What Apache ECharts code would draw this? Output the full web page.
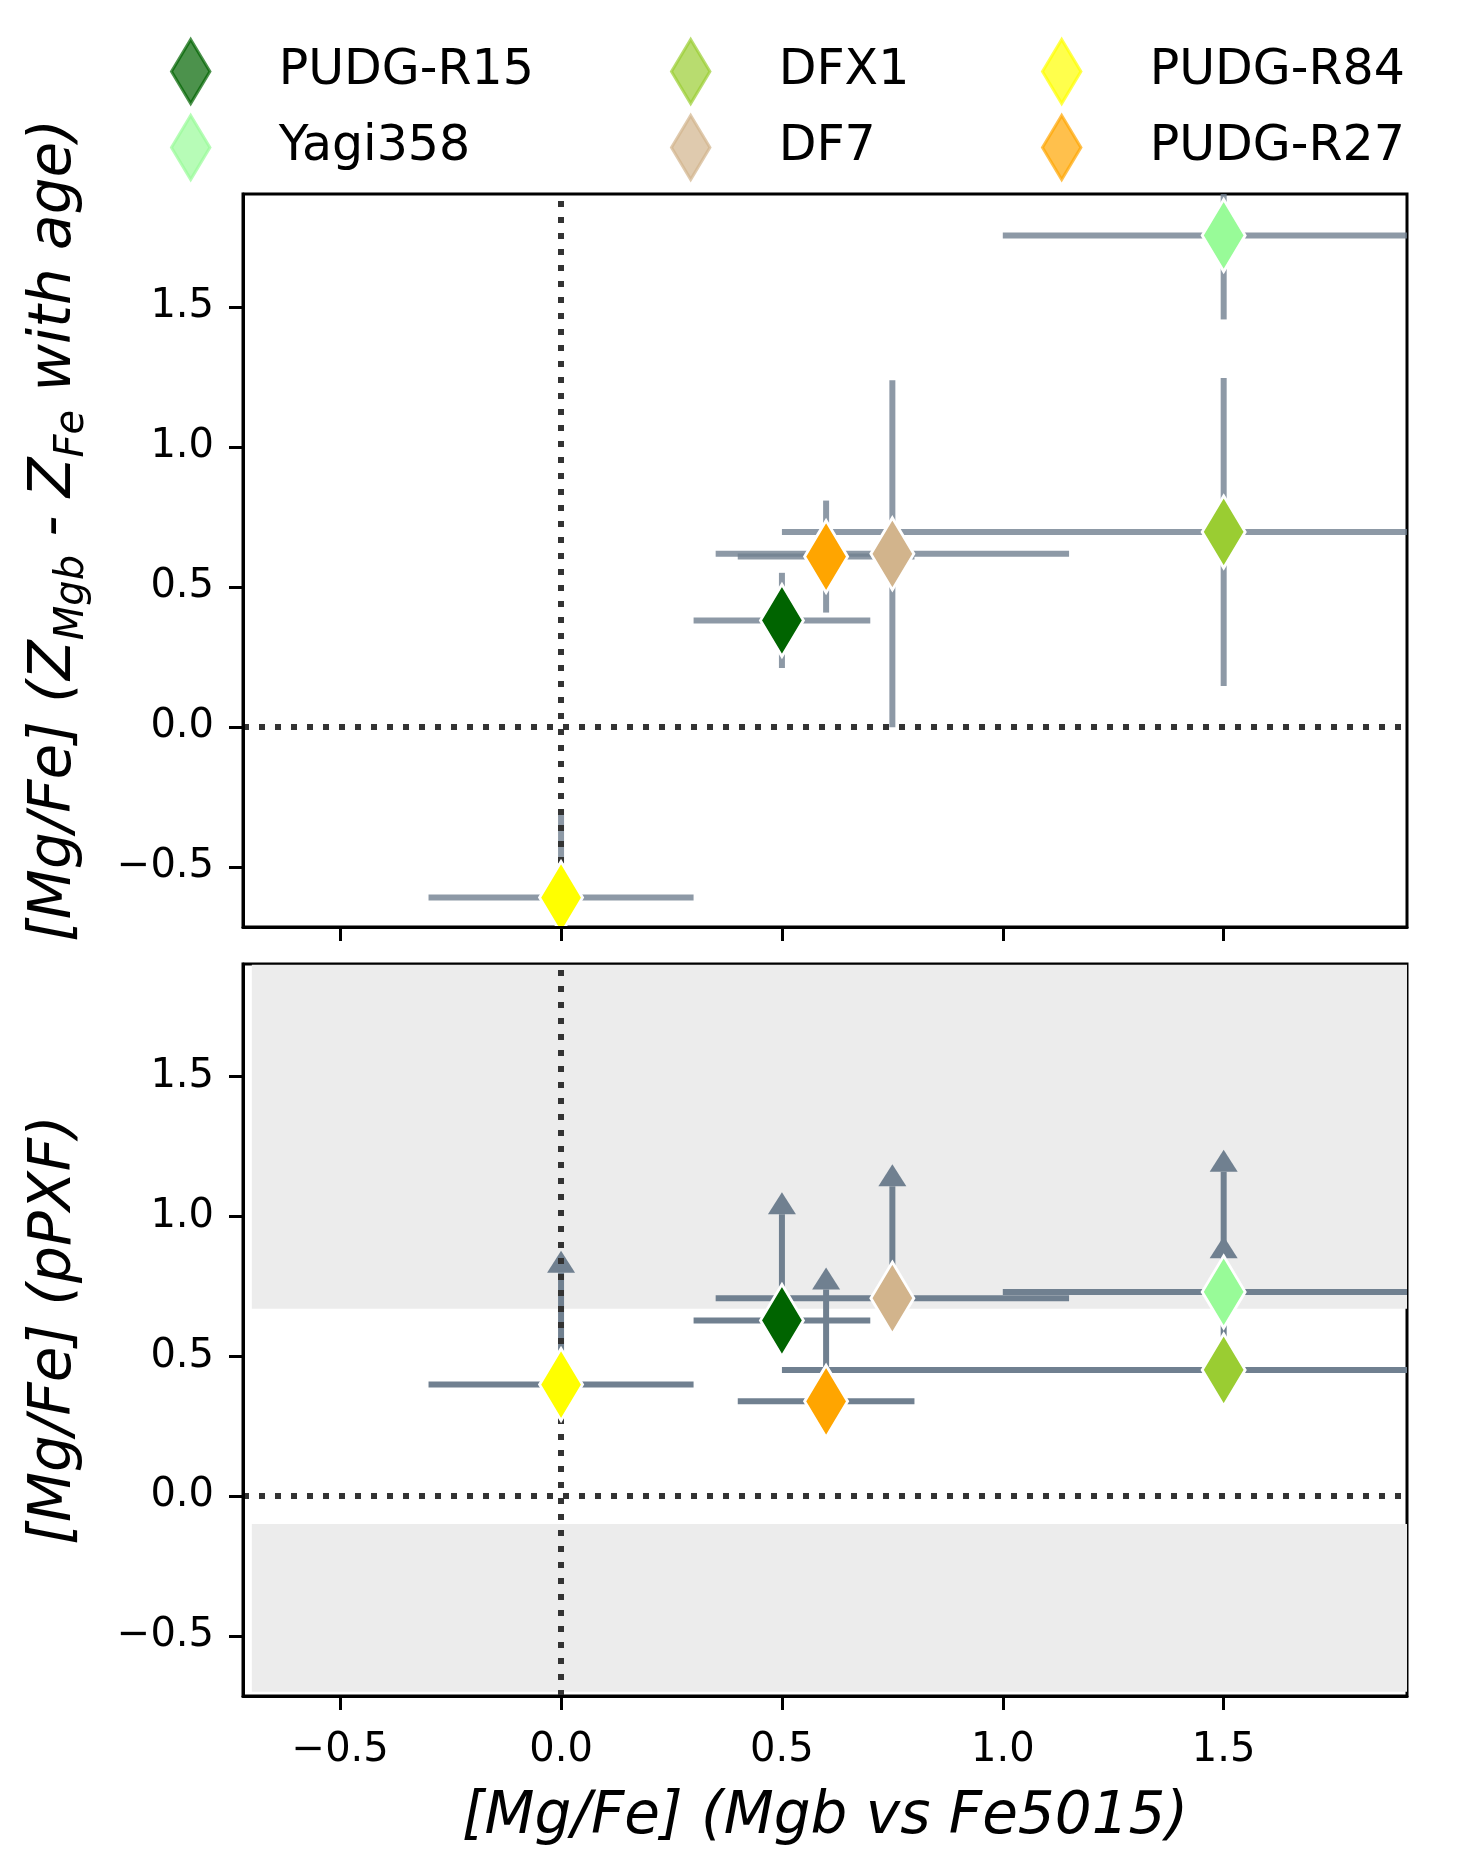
<!DOCTYPE html>
<html>
<head>
<meta charset="utf-8">
<script src="https://cdn.jsdelivr.net/npm/echarts@6/dist/echarts.min.js"></script>
<style>
  html, body { margin: 0; padding: 0; background: #fff; }
  #chart { width: 1460px; height: 1875px; }
</style>
</head>
<body>
<div id="chart"></div>
<script>
/* [Mg/Fe] comparison: index-based vs. Z-based (top) and pPXF lower limits (bottom) */

// --- data ---
const galaxies = ['PUDG-R15', 'Yagi358', 'DFX1', 'DF7', 'PUDG-R84', 'PUDG-R27'];
const colours  = ['#006400', '#98fb98', '#9acd32', '#d2b48c', '#ffff00', '#ffa500'];

// x: [Mg/Fe] from Mgb vs Fe5015
const mgfeIdx    = [0.50, 1.50, 1.50, 0.75, 0.00, 0.60];
const mgfeIdxErr = [0.20, 0.50, 1.00, 0.40, 0.30, 0.20];

// top panel: [Mg/Fe] from Z_Mgb - Z_Fe
const mgfeZ    = [0.380, 1.755, 0.696, 0.618, -0.610, 0.608];
const mgfeZErr = [0.170, 0.300, 0.550, 0.620, 0.315, 0.200];

// bottom panel: pPXF [Mg/Fe], plotted as lower limits (arrow length)
const mgfePpxf    = [0.628, 0.730, 0.451, 0.708, 0.399, 0.339];
const mgfePpxfLim = [0.38, 0.43, 0.40, 0.40, 0.40, 0.40];

// shaded bands in the bottom panel
const bandX = [-0.7, 1.915];
const bandsY = [[0.67, 1.9], [-0.7, -0.1]];

const tickVals = [-0.5, 0.0, 0.5, 1.0, 1.5];
const xRange = [-0.72, 1.915];
const yRange = [-0.715, 1.903];

// legend is laid out column by column, two names per column
const legendCols = [[0, 1], [2, 3], [4, 5]];
const legendLeft = [170, 670, 1041];

// --- helpers ---
const fmt = (v) => (v < 0 ? '\u2212' : '') + Math.abs(v).toFixed(1);
const FONT = 'DejaVu Sans';

function xAxisFor(gridIndex, withLabels) {
  return {
    type: 'value', gridIndex, min: xRange[0], max: xRange[1],
    splitLine: { show: false },
    axisLine: { show: true, onZero: false, lineStyle: { color: '#000', width: 3 } },
    axisTick: { show: true, length: 14, lineStyle: { color: '#000', width: 3 }, customValues: tickVals },
    axisLabel: {
      show: withLabels, customValues: tickVals, formatter: fmt,
      fontSize: 40, color: '#000', margin: 35, fontFamily: FONT,
    },
    z: 10,
  };
}

function yAxisFor(gridIndex, name, shift) {
  return {
    type: 'value', gridIndex, min: yRange[0], max: yRange[1],
    splitLine: { show: false },
    axisLine: { show: true, onZero: false, lineStyle: { color: '#000', width: 3 } },
    axisTick: { show: true, length: 14, lineStyle: { color: '#000', width: 3 }, customValues: tickVals },
    axisLabel: {
      customValues: tickVals, formatter: fmt,
      fontSize: 40, color: '#000', margin: 29, fontFamily: FONT,
    },
    name, nameLocation: 'middle', nameRotate: 90, nameGap: 150,
    nameTextStyle: {
      padding: [0, 0, 0, shift],
      rich: {
        m: { fontSize: 58, fontStyle: 'italic', lineHeight: 76, color: '#000', fontFamily: FONT },
        s: { fontSize: 40, fontStyle: 'italic', lineHeight: 40, verticalAlign: 'bottom', color: '#000', fontFamily: FONT },
      },
    },
    z: 10,
  };
}

// error bars as a custom series: symmetric bars, or an upward arrow (lower limit)
function errorBars(gridIndex, yVals, yErr, asLimit, colour) {
  return {
    type: 'custom', xAxisIndex: gridIndex, yAxisIndex: gridIndex, z: 2, silent: true,
    data: galaxies.map((g, i) => [mgfeIdx[i], yVals[i], mgfeIdxErr[i], yErr[i]]),
    renderItem(params, api) {
      const x = api.value(0), y = api.value(1), dx = api.value(2), dy = api.value(3);
      const cs = params.coordSys;
      const cx = (p) => Math.min(Math.max(p, cs.x), cs.x + cs.width);
      const cy = (p) => Math.min(Math.max(p, cs.y), cs.y + cs.height);
      const style = { stroke: colour, lineWidth: 6, fill: null };
      const l = api.coord([x - dx, y]);
      const r = api.coord([x + dx, y]);
      const kids = [{ type: 'line', shape: { x1: cx(l[0]), y1: l[1], x2: cx(r[0]), y2: r[1] }, style }];
      if (asLimit) {
        const c = api.coord([x, y]);
        const t = api.coord([x, y + dy]);
        kids.push({ type: 'line', shape: { x1: c[0], y1: c[1], x2: t[0], y2: t[1] }, style });
        kids.push({
          type: 'polygon',
          shape: { points: [[t[0], t[1] - 22], [t[0] - 14, t[1]], [t[0] + 14, t[1]]] },
          style: { fill: colour },
        });
      } else {
        const b = api.coord([x, y - dy]);
        const t = api.coord([x, y + dy]);
        kids.push({ type: 'line', shape: { x1: b[0], y1: cy(b[1]), x2: t[0], y2: cy(t[1]) }, style });
      }
      return { type: 'group', children: kids };
    },
  };
}

// dotted x = 0 and y = 0 lines, above the error bars but below the markers
function zeroLines(gridIndex) {
  return {
    type: 'line', xAxisIndex: gridIndex, yAxisIndex: gridIndex, z: 3, data: [], silent: true,
    markLine: {
      z: 3, silent: true, symbol: ['none', 'none'], label: { show: false }, animation: false,
      lineStyle: { color: '#333', width: 6, type: [6, 10] },
      data: [{ xAxis: 0 }, { yAxis: 0 }],
    },
  };
}

function markers(gridIndex, yVals) {
  return galaxies.map((g, i) => ({
    type: 'scatter', name: g, xAxisIndex: gridIndex, yAxisIndex: gridIndex, z: 6,
    symbol: 'diamond', symbolSize: [43, 72],
    itemStyle: { color: colours[i], borderColor: '#fff', borderWidth: 3, opacity: 1 },
    data: [[mgfeIdx[i], yVals[i]]],
  }));
}

const chart = echarts.init(document.getElementById('chart'));

const series = [
  // shaded bands, bottom panel
  {
    type: 'line', xAxisIndex: 1, yAxisIndex: 1, z: 1, data: [], silent: true,
    markArea: {
      z: 1, silent: true, itemStyle: { color: '#ececec' },
      data: bandsY.map((b) => [{ xAxis: bandX[0], yAxis: b[0] }, { xAxis: bandX[1], yAxis: b[1] }]),
    },
  },
  errorBars(0, mgfeZ, mgfeZErr, false, 'rgba(112,128,144,0.8)'),
  errorBars(1, mgfePpxf, mgfePpxfLim, true, '#708090'),
  zeroLines(0),
  zeroLines(1),
  ...markers(0, mgfeZ),
  ...markers(1, mgfePpxf),
];

chart.setOption({
  animation: false,
  backgroundColor: '#fff',
  textStyle: { fontFamily: FONT },
  legend: legendCols.map((idx, k) => ({
    orient: 'vertical', left: legendLeft[k], top: 38, padding: 0,
    itemWidth: 166, itemHeight: 64, itemGap: 9, selectedMode: false,
    icon: 'path://M0,-10L6,0L0,10L-6,0Z',
    textStyle: { fontSize: 49, color: '#000', fontFamily: FONT },
    data: idx.map((i) => ({
      name: galaxies[i],
      itemStyle: { color: colours[i], borderColor: colours[i], borderWidth: 3, opacity: 0.7 },
    })),
  })),
  grid: [
    { left: 243, top: 194, width: 1164, height: 733, show: true, borderColor: '#000', borderWidth: 3, backgroundColor: '#fff' },
    { left: 243, top: 964, width: 1164, height: 732, show: true, borderColor: '#000', borderWidth: 3, backgroundColor: '#fff' },
  ],
  xAxis: [
    xAxisFor(0, false),
    Object.assign(xAxisFor(1, true), {
      name: '[Mg/Fe] (Mgb vs Fe5015)', nameLocation: 'middle', nameGap: 93,
      nameTextStyle: { fontSize: 58, fontStyle: 'italic', color: '#000', fontFamily: FONT },
    }),
  ],
  yAxis: [
    yAxisFor(0, '{m|[Mg/Fe] (Z}{s|Mgb}{m| - Z}{s|Fe}{m| with age)}', 60),
    yAxisFor(1, '{m|[Mg/Fe] (pPXF)}', 0),
  ],
  series,
});
</script>
</body>
</html>
